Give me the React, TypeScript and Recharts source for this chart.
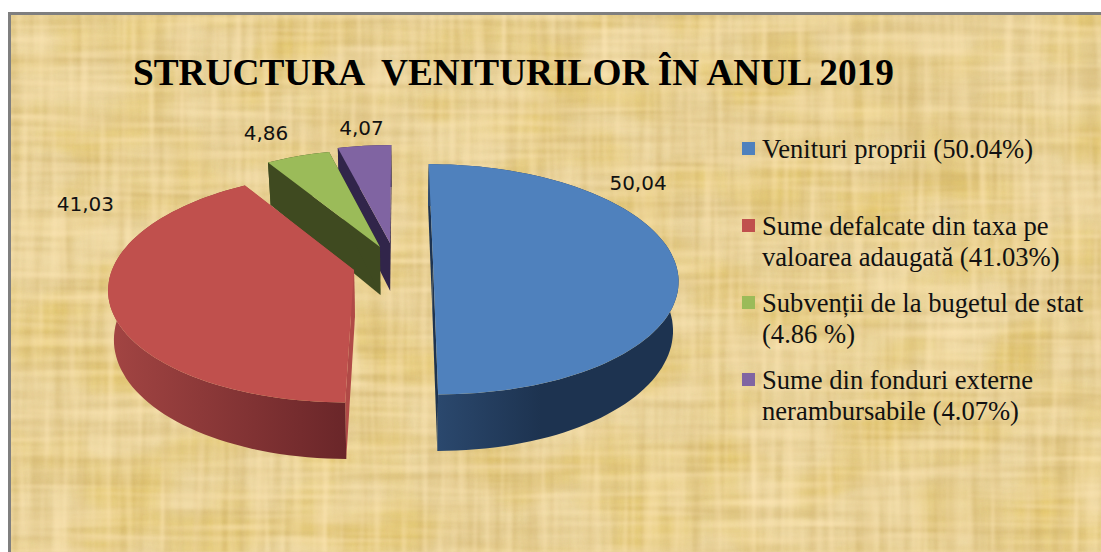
import { Legend, Pie, PieChart } from 'recharts'

const names = ['Venituri proprii', 'Sume defalcate', 'Subvenții', 'Sume din fonduri externe']
const values = [50.04, 41.03, 4.86, 4.07]
const topColors = ['#4f81bd', '#c0504d', '#9bbb59', '#8064a2']
const radialWallColors = ['#1d3350', '#b04a47', '#3f4a20', '#31254a']
const arcWallFrom = ['#2c4a70', '#a34543', '#3f4a20', '#31254a']
const arcWallTo = ['#1d3350', '#6a2629', '#3f4a20', '#31254a']
const legendLines = [
  ['Venituri proprii (50.04%)'],
  ['Sume defalcate din taxa pe', 'valoarea adaugată (41.03%)'],
  ['Subvenții de la bugetul de stat', '(4.86 %)'],
  ['Sume din fonduri externe', 'nerambursabile (4.07%)'],
]
const legendTops = [139, 216, 293, 370]

// how far each slice is pulled out of the pie, in px
const explode = [
  [33, 0],
  [-46, 8],
  [-20, -15],
  [-10, -19],
]
const labelNudge = [
  [-37, -79],
  [-24, -98],
  [-32, -23],
  [-3, -18],
]

const CX = 400
const CY = 262
const RADIUS = 242
const SQUASH = 0.465
const PERSPECTIVE = 0.15
const DEPTH = 48

// pie is fed back to front so the slices overlap the way they do in the 3D original
const order = [3, 2, 1, 0]
const pieData = order.map((i) => ({ name: names[i], value: values[i], fill: topColors[i], idx: i }))

function project(idx: number, theta: number, r: number, lower = false) {
  const [ox, oy] = explode[idx]
  const rad = (theta * Math.PI) / 180
  const z = r * Math.cos(rad)
  const s = 1 / (1 + PERSPECTIVE * z)
  let x = (ox + r * RADIUS * Math.sin(rad)) * s
  let y = CY + oy - RADIUS * SQUASH * z * s
  if (lower) {
    x *= 0.98
    y += DEPTH * s
  }
  return [CX + x, y]
}

const toPath = (pts: number[][]) => 'M' + pts.map((p) => `${p[0].toFixed(1)},${p[1].toFixed(1)}`).join('L') + 'Z'

function Slice3D(props: any) {
  const idx = props.idx ?? props.payload?.idx
  // recharts angles run counter-clockwise from 3 o'clock
  const a = 90 - props.endAngle
  const b = 90 - props.startAngle
  const steps = Math.max(4, Math.ceil((b - a) / 2))
  const arc: number[] = []
  for (let i = 0; i <= steps; i++) arc.push(a + ((b - a) * i) / steps)

  const upper = arc.map((t) => project(idx, t, 1))
  const lower = arc.map((t) => project(idx, t, 1, true))
  const apex = project(idx, 0, 0)
  const apexLow = project(idx, 0, 0, true)
  const gid = `wall-${idx}`

  return (
    <g>
      <defs>
        <linearGradient id={gid} x1="0" y1="0" x2="1" y2="0" gradientUnits="objectBoundingBox">
          <stop offset={0} stopColor={arcWallFrom[idx]} />
          <stop offset={idx === 0 ? 0.45 : 1} stopColor={arcWallTo[idx]} />
        </linearGradient>
      </defs>
      <path d={toPath([apex, upper[0], lower[0], apexLow])} fill={radialWallColors[idx]} />
      <path d={toPath([apex, upper[steps], lower[steps], apexLow])} fill={radialWallColors[idx]} />
      <path d={toPath([...upper, ...[...lower].reverse()])} fill={`url(#${gid})`} />
      <path d={toPath([apex, ...upper])} fill={topColors[idx]} />
    </g>
  )
}

function SliceLabel(props: any) {
  const idx = props.idx ?? props.payload?.idx
  const [x, y] = project(idx, 90 - props.midAngle, 1)
  const [dx, dy] = labelNudge[idx]
  return (
    <text
      x={x + dx}
      y={y + dy}
      textAnchor="middle"
      dominantBaseline="central"
      fontFamily="DejaVu Sans"
      fontSize={20}
      fill="#111"
    >
      {values[idx].toFixed(2).replace('.', ',')}
    </text>
  )
}

function LegendBox() {
  return (
    <div style={{ position: 'relative', width: 1101, height: 552 }}>
      {legendLines.map((lines, i) => (
        <div key={i}>
          <div
            style={{
              position: 'absolute',
              left: 742,
              top: legendTops[i] + 3,
              width: 13,
              height: 13,
              background: topColors[i],
            }}
          />
          <div
            style={{
              position: 'absolute',
              left: 762,
              top: legendTops[i] - 5,
              fontFamily: 'Liberation Serif',
              fontSize: 26.6,
              lineHeight: '31px',
              color: '#111',
              whiteSpace: 'nowrap',
            }}
          >
            {lines.map((l) => (
              <div key={l}>{l}</div>
            ))}
          </div>
        </div>
      ))}
    </div>
  )
}

// noise stretched along one axis gives the woven fibres of the paper
function Fibre({ id, freq, seed, rgb, slope, shift }: any) {
  const [r, g, b] = rgb
  return (
    <filter id={id} x="0" y="0" width="100%" height="100%" colorInterpolationFilters="sRGB">
      <feTurbulence type="fractalNoise" baseFrequency={freq} numOctaves={2} seed={seed} />
      <feColorMatrix
        type="matrix"
        values={`0 0 0 0 ${r} 0 0 0 0 ${g} 0 0 0 0 ${b} ${slope} 0 0 0 ${shift}`}
      />
      <feGaussianBlur stdDeviation="1" />
    </filter>
  )
}

const fibres = [
  { id: 'blotch', freq: '0.012 0.018', seed: 14, rgb: [0.88, 0.76, 0.36], slope: 1.8, shift: -0.72 },
  { id: 'weaveH', freq: '0.005 0.11', seed: 3, rgb: [0.8, 0.68, 0.4], slope: 1, shift: -0.4 },
  { id: 'weaveV', freq: '0.11 0.005', seed: 8, rgb: [0.8, 0.68, 0.4], slope: 1, shift: -0.4 },
  { id: 'glowH', freq: '0.007 0.14', seed: 5, rgb: [1, 0.91, 0.72], slope: 1.2, shift: -0.5 },
  { id: 'glowV', freq: '0.14 0.007', seed: 11, rgb: [1, 0.91, 0.72], slope: 1.2, shift: -0.5 },
]

function Papyrus() {
  return (
    <svg width={1101} height={552} style={{ position: 'absolute', left: 0, top: 0 }}>
      <defs>
        {fibres.map((f) => (
          <Fibre key={f.id} {...f} />
        ))}
      </defs>
      <rect x={0} y={0} width={1101} height={552} fill="#ecd7a0" />
      {fibres.map((f) => (
        <rect key={f.id} x={0} y={0} width={1101} height={552} filter={`url(#${f.id})`} />
      ))}
    </svg>
  )
}

export default function App() {
  return (
    <div style={{ position: 'fixed', left: 0, top: 0, width: 1101, height: 552, overflow: 'hidden', background: '#fff' }}>
      <div style={{ position: 'absolute', left: 8, top: 12, width: 1093, height: 540, overflow: 'hidden' }}>
        <div style={{ position: 'absolute', left: -8, top: -12 }}>
          <Papyrus />
        </div>
        <div style={{ position: 'absolute', left: 0, top: 0, width: 3, height: 540, background: '#7f7f7f' }} />
        <div style={{ position: 'absolute', left: 0, top: 0, width: 1093, height: 3, background: '#7f7f7f' }} />
      </div>
      <div
        style={{
          position: 'absolute',
          left: 133,
          top: 51,
          fontFamily: 'Liberation Serif',
          fontWeight: 700,
          fontSize: 37.3,
          lineHeight: '44px',
          color: '#000',
          whiteSpace: 'pre',
        }}
      >
        {'STRUCTURA  VENITURILOR ÎN ANUL 2019'}
      </div>
      <div style={{ position: 'absolute', left: 0, top: 0 }}>
        <PieChart width={1101} height={552} margin={{ top: 0, right: 0, bottom: 0, left: 0 }}>
          <Pie
            data={pieData}
            dataKey="value"
            nameKey="name"
            cx={CX}
            cy={CY}
            innerRadius={0}
            outerRadius={RADIUS}
            startAngle={90}
            endAngle={450}
            stroke="none"
            shape={Slice3D}
            label={SliceLabel}
            labelLine={false}
            isAnimationActive={false}
          />
          <Legend
            content={<LegendBox />}
            wrapperStyle={{ position: 'absolute', left: 0, top: 0, width: 1101, height: 552, bottom: 'auto', pointerEvents: 'none' }}
          />
        </PieChart>
      </div>
    </div>
  )
}
